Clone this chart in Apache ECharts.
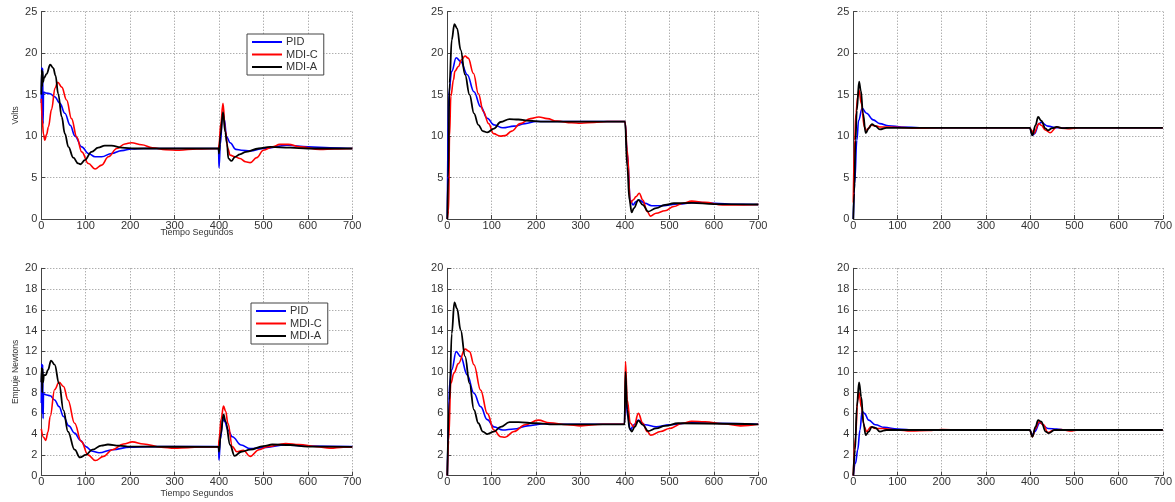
<!DOCTYPE html>
<html>
<head>
<meta charset="utf-8">
<script src="https://cdn.jsdelivr.net/npm/echarts@6/dist/echarts.min.js"></script>
<style>
html,body{margin:0;padding:0;background:#fff;}
#c{width:1175px;height:502px;}
</style>
</head>
<body>
<div id="c"></div>
<script>
// ---- Data: [time (s), value] ----
const seriesNames = ['PID', 'MDI-C', 'MDI-A'];
const seriesColors = ['#0000ff', '#ff0000', '#000000'];
const xTickInterval = 100;
const topYMax = 25, topYInterval = 5;
const botYMax = 20, botYInterval = 2;
const xLabelTitle = 'Tiempo Segundos';
const yTitleTop = 'Volts';
const yTitleBottom = 'Empuje Newtons';

// Panel 1 (top-left, Volts)
const p1PID = [[0,14],[1,18.3],[2,12],[3,18.2],[4,11.5],[5,15.3],[10,15.2],[20,15.1],[30,14.75],[42,13.95],[53,12.75],[65,11.3],[76,10],[91,8.7],[106,7.9],[121,7.5],[136,7.5],[158,7.9],[181,8.25],[203,8.45],[230,8.5],[300,8.5],[399,8.5],[400,6.2],[403,9],[408,12.7],[412,12.0],[417,9.9],[425,9.2],[438,8.4],[450,8.3],[470,8.2],[500,8.5],[553,8.9],[600,8.7],[650,8.6],[700,8.5]];
const p1MDIC = [[0,14.5],[2,12],[5,10.2],[8,9.5],[12,10.2],[16,11.1],[23,13.2],[31,15.8],[37,16.5],[46,15.9],[57,14.35],[68,12.1],[80,9.85],[91,8.1],[106,6.7],[121,6.03],[136,6.5],[151,7.5],[170,8.5],[188,9.05],[203,9.2],[226,8.95],[250,8.6],[280,8.35],[310,8.3],[350,8.45],[399,8.5],[400,9],[404,11.5],[409,13.95],[414,10.7],[420,8.5],[425,7.7],[436,7.5],[447,7.3],[460,6.9],[470,6.8],[485,7.4],[500,8.3],[520,8.7],[537,9.0],[556,9.0],[582,8.7],[627,8.4],[660,8.45],[700,8.5]];
const p1MDIA = [[0,15],[1,18],[2,16],[3,17.8],[4,16.5],[6,17],[12,17.5],[20,18.6],[27,18.2],[32,17.3],[38,15.1],[46,12.3],[53,10.3],[61,8.7],[72,7.4],[83,6.7],[88,6.6],[98,7.1],[113,8.1],[128,8.6],[143,8.85],[158,8.85],[181,8.6],[210,8.5],[399,8.5],[400,7.9],[403,10],[409,12.9],[414,10.5],[418,9.1],[421,7.3],[428,7.0],[436,7.5],[447,7.8],[461,8.1],[489,8.5],[515,8.7],[560,8.6],[600,8.5],[700,8.5]];

// Panel 2 (top-middle, Volts)
const p2PID = [[0,0],[3,15],[10,17.8],[20,19.45],[30,19.0],[45,17.4],[60,15.35],[75,13.55],[90,12.15],[105,11.35],[125,11.0],[150,11.2],[175,11.5],[200,11.75],[400,11.75],[405,7.9],[412,2.3],[418,1.7],[425,2.1],[432,2.3],[445,1.9],[460,1.6],[480,1.6],[520,1.8],[560,2.0],[600,1.9],[650,1.77],[700,1.75]];
const p2MDIC = [[0,0],[3,1],[5,10],[8,14.8],[14,16.8],[17,17.8],[25,18.4],[32,19.2],[40,19.65],[47,19.4],[59,17.55],[70,15.1],[81,13.0],[93,11.5],[104,10.3],[119,10.0],[130,10.05],[145,10.6],[164,11.5],[187,12.1],[206,12.3],[225,12.1],[247,11.8],[280,11.6],[300,11.55],[330,11.65],[360,11.75],[400,11.75],[405,8.3],[412,1.9],[418,2.3],[425,2.7],[432,3.1],[440,2.3],[450,0.9],[457,0.35],[470,0.7],[490,1.0],[510,1.5],[530,1.9],[550,2.15],[580,2.0],[620,1.7],[660,1.7],[700,1.75]];
const p2MDIA = [[0,0],[2,5],[5,16.4],[10,21.6],[16,23.5],[22,23.0],[30,20.4],[40,17.4],[50,15.0],[60,12.75],[70,11.35],[80,10.6],[90,10.45],[105,10.9],[120,11.7],[140,12.05],[160,12.0],[185,11.85],[210,11.75],[400,11.75],[405,6.3],[410,2.3],[415,0.8],[420,1.3],[430,2.3],[440,1.7],[452,0.9],[470,1.3],[490,1.7],[510,1.9],[550,1.95],[600,1.8],[700,1.75]];

// Panel 3 (top-right, Volts)
const p3PID = [[0,0],[3,4.3],[8,9.5],[12,11.9],[20,13.35],[30,12.75],[45,11.95],[60,11.5],[80,11.25],[110,11.1],[150,11.0],[399,11.0],[405,10.1],[410,10.3],[420,11.5],[425,11.65],[440,11.2],[460,11.0],[700,11.0]];
const p3MDIC = [[0,2],[3,9.5],[6,12.75],[10,14.75],[13,15.55],[18,13.95],[25,11.1],[30,10.7],[40,11.3],[50,11.25],[60,11.1],[80,11.1],[150,10.95],[200,11.0],[399,11.0],[403,10.7],[408,10.3],[420,11.5],[425,11.3],[435,10.7],[445,10.4],[460,11.1],[470,10.95],[490,10.9],[510,11.0],[700,11.0]];
const p3MDIA = [[0,0],[2,3.1],[5,9.5],[8,13.1],[13,16.55],[17,15.5],[22,12.75],[28,10.35],[35,10.95],[42,11.45],[50,11.2],[60,10.8],[75,11.0],[399,11.0],[405,10.1],[412,11.3],[418,12.3],[425,11.85],[435,10.9],[440,10.7],[450,10.95],[460,11.1],[475,10.95],[490,11.0],[700,11.0]];

// Panel 4 (bottom-left, Newtons)
const p4PID = [[0,7],[1,10.8],[2,6],[3,10.7],[4,5.5],[5,7.9],[10,7.8],[20,7.7],[30,7.3],[40,6.65],[50,5.7],[62,4.8],[75,4.1],[88,3.4],[100,2.8],[115,2.35],[130,2.2],[160,2.5],[200,2.75],[240,2.8],[399,2.8],[400,1.5],[403,3.5],[409,5.5],[413,5.2],[420,4.4],[430,3.75],[450,2.95],[470,2.6],[500,2.7],[550,2.95],[600,2.85],[700,2.8]];
const p4MDIC = [[0,4.5],[5,3.7],[10,3.4],[15,4.2],[20,5.7],[30,8.3],[40,9.0],[50,8.6],[60,7.3],[75,5.05],[90,3.3],[105,2.0],[122,1.45],[140,1.85],[160,2.5],[185,3.05],[205,3.25],[230,3.05],[270,2.75],[300,2.65],[330,2.7],[360,2.77],[399,2.77],[400,3.5],[405,5.5],[410,6.7],[415,6.2],[420,5.05],[430,2.8],[440,2.3],[455,2.45],[470,1.85],[490,2.5],[510,2.8],[550,3.1],[580,3.0],[620,2.8],[650,2.65],[680,2.75],[700,2.77]];
const p4MDIA = [[0,9],[1,10.4],[2,8],[3,10.3],[4,9],[6,9.7],[10,9.7],[15,10.2],[22,11.1],[30,10.7],[40,8.9],[50,6.3],[60,4.25],[75,2.5],[87,1.75],[100,2.0],[115,2.5],[135,2.9],[150,3.0],[175,2.9],[200,2.8],[399,2.77],[400,2.3],[404,4],[410,5.9],[415,5.2],[425,2.95],[435,1.9],[450,2.3],[470,2.5],[500,2.85],[520,3.0],[560,2.95],[600,2.8],[700,2.77]];

// Panel 5 (bottom-middle, Newtons)
const p5PID = [[0,0],[3,5],[5,8.9],[10,10.2],[20,11.96],[30,11.5],[45,9.7],[60,7.95],[75,6.65],[90,5.4],[105,4.7],[125,4.4],[150,4.5],[180,4.8],[220,5.0],[260,4.95],[399,4.95],[400,8],[403,7],[406,5.7],[412,4.4],[420,4.9],[430,5.35],[445,4.9],[470,4.7],[500,4.9],[550,5.1],[600,5.05],[700,4.95]];
const p5MDIC = [[0,0],[3,3.4],[8,8.9],[15,9.9],[25,10.8],[40,12.2],[50,11.96],[60,10.7],[75,8.25],[90,6.0],[105,4.4],[120,3.75],[130,3.7],[150,4.25],[175,4.9],[205,5.35],[230,5.1],[270,4.9],[300,4.8],[350,4.95],[399,4.95],[401,11.0],[405,7.3],[412,5.05],[420,4.7],[430,6.0],[440,5.05],[450,4.25],[458,3.9],[480,4.25],[500,4.55],[530,5.05],[550,5.25],[580,5.2],[620,5.0],[660,4.8],[700,4.95]];
const p5MDIA = [[0,0],[5,7.3],[10,13.7],[16,16.7],[22,16.1],[30,14.05],[40,11.5],[50,8.9],[60,6.35],[70,5.05],[80,4.25],[90,4.0],[105,4.25],[120,4.7],[140,5.15],[160,5.15],[200,5.05],[240,4.95],[399,4.95],[401,10.0],[405,6.35],[410,4.55],[415,4.25],[422,4.7],[430,5.3],[440,4.9],[452,4.3],[470,4.55],[490,4.8],[520,5.05],[700,4.95]];

// Panel 6 (bottom-right, Newtons)
const p6PID = [[0,0],[5,1.2],[10,2.5],[15,4.4],[20,6.2],[25,6.0],[35,5.35],[50,4.9],[70,4.65],[100,4.5],[140,4.4],[399,4.4],[405,3.9],[410,4.25],[422,5.1],[440,4.55],[460,4.5],[480,4.4],[700,4.4]];
const p6MDIC = [[0,0],[5,3.75],[10,7.3],[13,8.0],[18,6.65],[25,4.7],[30,4.25],[40,4.7],[50,4.55],[65,4.55],[100,4.4],[130,4.3],[170,4.35],[200,4.45],[240,4.4],[399,4.4],[405,3.75],[412,4.55],[420,5.2],[430,4.9],[440,4.15],[455,4.4],[470,4.45],[490,4.3],[510,4.4],[700,4.4]];
const p6MDIA = [[0,0],[4,2.5],[8,6.65],[13,9.0],[18,7.6],[23,5.05],[28,3.9],[35,4.25],[42,4.7],[50,4.6],[60,4.25],[75,4.4],[399,4.4],[405,3.75],[412,4.7],[418,5.35],[425,5.2],[435,4.25],[442,4.1],[455,4.4],[700,4.4]];

const panels = [
  [p1PID, p1MDIC, p1MDIA],
  [p2PID, p2MDIC, p2MDIA],
  [p3PID, p3MDIC, p3MDIA],
  [p4PID, p4MDIC, p4MDIA],
  [p5PID, p5MDIC, p5MDIA],
  [p6PID, p6MDIC, p6MDIA]
];

// ---- Layout ----
const colLeft = [41.3, 447.3, 853.3];
const plotW = 311;
const rowTop = [11.7, 268.3];
const plotH = 207.3;
const FONT = 'Liberation Sans, Arial, sans-serif';

const grids = [], xAxes = [], yAxes = [], series = [];
for (let i = 0; i < 6; i++) {
  const r = Math.floor(i / 3), c = i % 3;
  grids.push({left: colLeft[c], top: rowTop[r], width: plotW, height: plotH});
  const xa = {
    type: 'value', gridIndex: i, min: 0, max: 700, interval: xTickInterval,
    axisLine: {show: true, onZero: false, lineStyle: {color: '#444', width: 1}},
    axisTick: {show: true, inside: true, length: 4, lineStyle: {color: '#444'}},
    axisLabel: {fontSize: 11, color: '#333', margin: 1, fontFamily: FONT},
    splitLine: {show: true, lineStyle: {type: [1, 2], color: '#8c8c8c', width: 1}}
  };
  if (c === 0) {
    xa.name = xLabelTitle;
    xa.nameLocation = 'middle';
    xa.nameMoveOverlap = false;
    xa.nameGap = r === 0 ? 9 : 13.5;
    xa.nameTextStyle = {fontSize: 9, color: '#333', fontFamily: FONT};
  }
  xAxes.push(xa);
  const ya = {
    type: 'value', gridIndex: i, min: 0,
    max: r === 0 ? topYMax : botYMax,
    interval: r === 0 ? topYInterval : botYInterval,
    axisLine: {show: true, onZero: false, lineStyle: {color: '#444', width: 1}},
    axisTick: {show: true, inside: true, length: 4, lineStyle: {color: '#444'}},
    axisLabel: {fontSize: 11, color: '#333', margin: 4, fontFamily: FONT},
    splitLine: {show: true, lineStyle: {type: [1, 2], color: '#8c8c8c', width: 1}}
  };
  if (c === 0) {
    ya.name = r === 0 ? yTitleTop : yTitleBottom;
    ya.nameLocation = 'middle';
    ya.nameMoveOverlap = false;
    ya.nameGap = 21;
    ya.nameTextStyle = {fontSize: 8.5, color: '#333', fontFamily: FONT};
  }
  yAxes.push(ya);
  panels[i].forEach((d, k) => {
    series.push({
      type: 'line', name: seriesNames[k], xAxisIndex: i, yAxisIndex: i,
      data: d, symbol: 'none', showSymbol: false,
      smooth: 0.4, smoothMonotone: 'x',
      color: seriesColors[k],
      itemStyle: {color: seriesColors[k]},
      lineStyle: {color: seriesColors[k], width: k === 2 ? 1.8 : 1.6},
      z: 2 + k
    });
  });
}

function mkLegend(left, top) {
  return {
    data: seriesNames, orient: 'vertical', left: left, top: top,
    backgroundColor: '#fff', borderColor: '#444', borderWidth: 1,
    padding: [2, 6, 2, 5], itemWidth: 30, itemHeight: 2, itemGap: 0.5,
    icon: 'rect', selectedMode: false,
    textStyle: {fontSize: 11, color: '#333', fontFamily: FONT, lineHeight: 12, padding: [0, 0, 0, -1]}
  };
}

const chart = echarts.init(document.getElementById('c'), null, {renderer: 'canvas'});
chart.setOption({
  backgroundColor: '#fff',
  animation: false,
  grid: grids, xAxis: xAxes, yAxis: yAxes, series: series,
  legend: [mkLegend(247, 34), mkLegend(251, 303)]
});
</script>
</body>
</html>
